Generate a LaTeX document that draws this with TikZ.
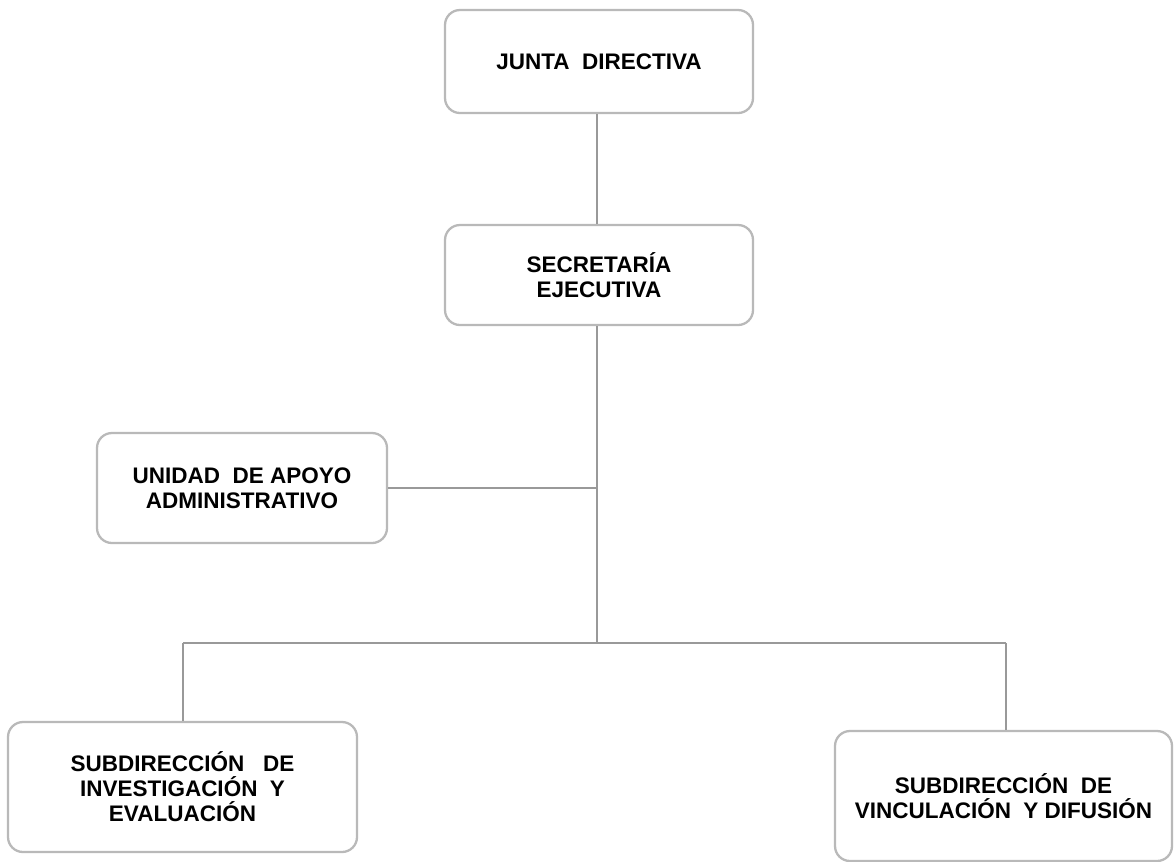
\documentclass[tikz,border=0pt]{standalone}
\usepackage{fontspec}
\setmainfont{Liberation Sans}
\usetikzlibrary{positioning, calc}

\begin{document}
\begin{tikzpicture}[
    font=\fontsize{12.8}{14.2}\selectfont\bfseries,
    box/.style={
        rectangle,
        rounded corners=0.3cm,
        draw=gray!55,
        line width=1.3pt,
        fill=white,
        align=center,
        minimum width=6.16cm,
        minimum height=2.0cm
    },
    link/.style={
        draw=gray!80,
        line width=0.6pt
    }
]

    % Page size (same proportions as the chart)
    \useasboundingbox (0,0) rectangle (23.5,-17.22);

    % =======================================================
    % Boxes
    % =======================================================
    \node[box, minimum height=2.06cm] (junta) at (11.98,-1.23) {JUNTA~~DIRECTIVA};
    \node[box] (secre) at (11.98,-5.5) {SECRETAR\'IA\\EJECUTIVA};
    \node[box, minimum width=5.8cm, minimum height=2.2cm] (unidad) at (4.84,-9.76)
        {UNIDAD~~DE~APOYO\\ADMINISTRATIVO};
    \node[box, minimum width=6.98cm, minimum height=2.6cm] (subInv) at (3.65,-15.74)
        {SUBDIRECCI\'ON~~~DE\\INVESTIGACI\'ON~~Y\\EVALUACI\'ON};
    \node[box, minimum width=6.74cm, minimum height=2.6cm] (subVinc) at (20.07,-15.92)
        {SUBDIRECCI\'ON~~DE\\VINCULACI\'ON~~Y~DIFUSI\'ON};

    % Branch points
    \coordinate (midDot) at (11.94,-9.76);
    \coordinate (busDot) at (11.94,-12.86);
    \coordinate (busL) at (3.66,-12.86);
    \coordinate (busR) at (20.12,-12.86);

    % =======================================================
    % Connectors
    % =======================================================
    \draw[link] (junta.south -| midDot) -- (secre.north -| midDot);
    \draw[link] (secre.south -| midDot) -- (midDot) -- (busDot);
    \draw[link] (unidad.east) -- (midDot);
    \draw[link] (busL) -- (busR);
    \draw[link] (busL) -- (subInv.north -| busL);
    \draw[link] (busR) -- (subVinc.north -| busR);

\end{tikzpicture}
\end{document}
